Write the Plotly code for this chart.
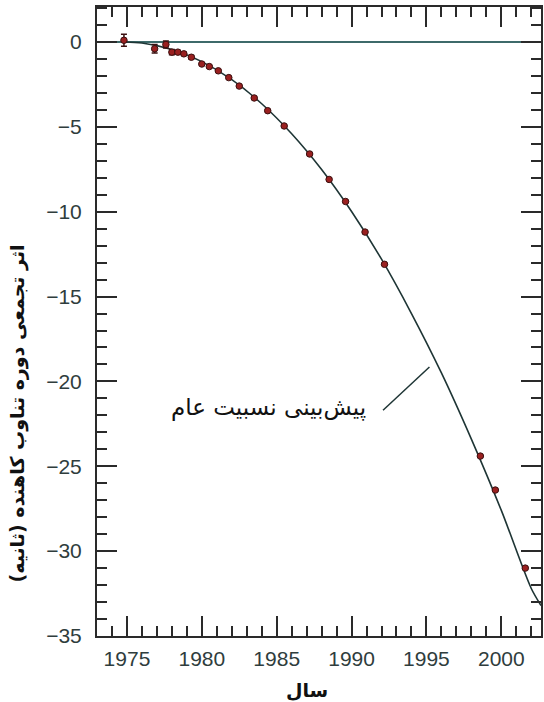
import plotly.graph_objects as go

# Observed data points (year, cumulative shift in seconds)
obs_year = [1974.8, 1976.85, 1977.6, 1978.0, 1978.4, 1978.8, 1979.3, 1980.0, 1980.5,
            1981.1, 1981.8, 1982.5, 1983.5, 1984.4, 1985.5, 1987.2, 1988.5, 1989.6,
            1990.9, 1992.2, 1998.6, 1999.6, 2001.6]
obs_shift = [0.1, -0.4, -0.15, -0.6, -0.6, -0.7, -0.9, -1.3, -1.45,
             -1.7, -2.1, -2.6, -3.3, -4.05, -4.95, -6.6, -8.1, -9.4,
             -11.2, -13.1, -24.4, -26.4, -31.0]
obs_err = [0.35, 0.25, 0.2, 0.15, 0.1, 0.1, 0.1, 0.05, 0.05,
           0.05, 0.05, 0.05, 0.05, 0.05, 0.05, 0.05, 0.05, 0.05,
           0.05, 0.05, 0.05, 0.05, 0.05]

# General relativity prediction curve
gr_year = [1974.8, 1976.0, 1978.0, 1980.0, 1982.0, 1984.0, 1986.0, 1988.0, 1990.0,
           1992.0, 1994.0, 1996.0, 1998.0, 2000.0, 2002.0, 2002.65]
gr_shift = [0.0, -0.06, -0.44, -1.16, -2.22, -3.64, -5.41, -7.52, -9.99,
            -12.8, -16.0, -19.5, -23.4, -27.6, -32.2, -33.2]

x_ticks = [1975, 1980, 1985, 1990, 1995, 2000]
y_ticks = [0, -5, -10, -15, -20, -25, -30, -35]

label_gr = "پیش‌بینی نسبیت عام"
x_title = "سال"
y_title = "اثر تجمعی دوره تناوب کاهنده (ثانیه)"

axis_col = "#2a2a2a"
text_col = "#2f3d3d"

fig = go.Figure()
fig.add_trace(go.Scatter(x=gr_year, y=gr_shift, mode="lines",
                         line=dict(color="#1e3535", width=1.6, shape="spline", smoothing=0.8),
                         hoverinfo="skip", showlegend=False))
fig.add_trace(go.Scatter(x=obs_year, y=obs_shift, mode="markers",
                         marker=dict(color="#9a2020", size=6.5, symbol="circle",
                                     line=dict(color="#3a1010", width=1)),
                         error_y=dict(type="data", array=obs_err, color="#3a1010",
                                      thickness=1.5, width=3),
                         showlegend=False))

fig.add_shape(type="line", x0=1992.1, y0=-21.7, x1=1995.2, y1=-19.15,
              line=dict(color="#1e3535", width=1.5))
fig.add_annotation(x=1991.1, y=-21.55, text=label_gr, showarrow=False,
                   xanchor="right", yanchor="middle",
                   font=dict(family="DejaVu Sans", size=23, color="#111"))
fig.add_annotation(x=-0.179, y=0.353, xref="paper", yref="paper", text="<b>" + y_title + "</b>",
                   showarrow=False, textangle=-90, xanchor="center", yanchor="middle",
                   font=dict(family="DejaVu Sans", size=19, color="#111"))
fig.add_annotation(x=0.472, y=-0.086, xref="paper", yref="paper", text="<b>" + x_title + "</b>",
                   showarrow=False, xanchor="center", yanchor="middle",
                   font=dict(family="DejaVu Sans", size=19, color="#111"))

fig.update_xaxes(range=[1973, 2002.65], tickvals=x_ticks, ticks="inside", ticklen=20,
                 tickwidth=2, tickcolor=axis_col, showline=True, linewidth=2,
                 linecolor=axis_col, mirror="ticks", showgrid=False, zeroline=False,
                 minor=dict(dtick=1, tick0=1973, ticks="inside", ticklen=10, tickwidth=2,
                            tickcolor=axis_col, showgrid=False),
                 tickfont=dict(family="Liberation Sans", size=21, color=text_col),
                 ticklabelstandoff=3)
fig.update_yaxes(range=[-35, 2.06], tickvals=y_ticks,
                 ticktext=["0", "−5", "−10", "−15", "−20", "−25", "−30", "−35"],
                 ticks="inside", ticklen=20,
                 tickwidth=2, tickcolor=axis_col, showline=True, linewidth=2,
                 linecolor=axis_col, mirror="ticks", showgrid=False,
                 zeroline=True, zerolinecolor="#3d6a6a", zerolinewidth=2,
                 minor=dict(dtick=1, tick0=0, ticks="inside", ticklen=10, tickwidth=2,
                            tickcolor=axis_col, showgrid=False),
                 tickfont=dict(family="Liberation Sans", size=21, color=text_col),
                 ticklabelstandoff=9)

fig.update_layout(width=544, height=702, margin=dict(l=97, r=1, t=7, b=66),
                  plot_bgcolor="white", paper_bgcolor="white")

fig.write_html("out.html", config={"displayModeBar": False},
               post_script="document.body.style.margin='0';document.body.style.overflow='hidden';")
